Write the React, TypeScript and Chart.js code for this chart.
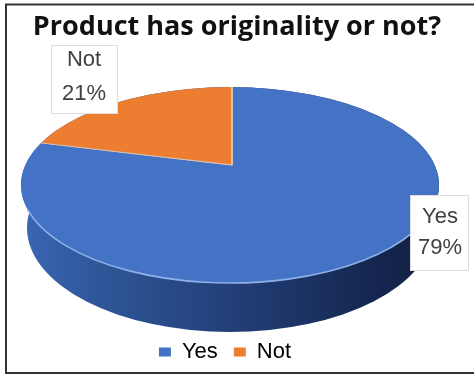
import React, { useEffect, useRef } from "react";
import { Chart, registerables } from "chart.js";

Chart.register(...registerables);

const titleText = "Product has originality or not?";
const categories = ["Yes", "Not"];
const shareValues = [79, 21];
const sliceColors = ["#4472C4", "#ED7D31"];
const labelFont = "22px 'Liberation Sans'";

const pie3d = {
  id: "pie3d",
  afterLayout(chart: any) {
    chart.legend.left -= 12;
    chart.legend.right -= 12;
  },
  beforeDraw(chart: any) {
    const ctx = chart.ctx;
    ctx.save();
    ctx.fillStyle = "#fff";
    ctx.fillRect(0, 0, chart.width, chart.height);
    ctx.restore();
  },
  beforeDatasetsDraw(chart: any) {
    const ctx = chart.ctx;
    // side wall
    ctx.save();
    const g = ctx.createLinearGradient(21, 0, 439, 0);
    g.addColorStop(0, "#3A66B4");
    g.addColorStop(0.2, "#2F5597");
    g.addColorStop(0.5, "#233F78");
    g.addColorStop(0.85, "#14264F");
    g.addColorStop(1, "#10203F");
    ctx.fillStyle = g;
    ctx.beginPath();
    ctx.ellipse(230, 228, 203, 104, 0, 0, Math.PI * 2);
    ctx.fill();
    ctx.beginPath();
    ctx.ellipse(230, 185, 209, 98, 0, 0, Math.PI * 2);
    ctx.fill();
    ctx.restore();
    // top face: pie seen in tilt, apex above the centre of the outline
    const el = chart.getDatasetMeta(0).data[0];
    ctx.save();
    ctx.beginPath();
    ctx.ellipse(230, 185, 209, 98, 0, 0, Math.PI * 2);
    ctx.clip();
    ctx.translate(232, 165);
    ctx.scale(1, 0.45);
    ctx.translate(-el.x, -el.y);
  },
  afterDatasetsDraw(chart: any) {
    const ctx = chart.ctx;
    ctx.restore();
    ctx.save();
    ctx.strokeStyle = "#8FB0E8";
    ctx.lineWidth = 1.6;
    ctx.beginPath();
    ctx.ellipse(230, 185, 209, 98, 0, Math.PI * 0.16, Math.PI * 0.92);
    ctx.stroke();
    ctx.restore();
  },
  afterDraw(chart: any) {
    const ctx = chart.ctx;
    const boxes = [
      { i: 1, x: 51, y: 45, w: 66, h: 68, cx: 84, y1: 60, y2: 94 },
      { i: 0, x: 410, y: 195, w: 58, h: 75, cx: 440, y1: 217, y2: 248 },
    ];
    ctx.save();
    for (const b of boxes) {
      ctx.fillStyle = "#fff";
      ctx.strokeStyle = "#DDDDDD";
      ctx.lineWidth = 1;
      ctx.fillRect(b.x, b.y, b.w, b.h);
      ctx.strokeRect(b.x + 0.5, b.y + 0.5, b.w, b.h);
      ctx.fillStyle = "#404040";
      ctx.font = labelFont;
      ctx.textAlign = "center";
      ctx.textBaseline = "middle";
      ctx.fillText(categories[b.i], b.cx, b.y1);
      ctx.fillText(shareValues[b.i] + "%", b.cx, b.y2);
    }
    ctx.strokeStyle = "#333";
    ctx.lineWidth = 2;
    ctx.beginPath();
    ctx.moveTo(474, 4.5);
    ctx.lineTo(6, 4.5);
    ctx.lineTo(6, 373);
    ctx.lineTo(474, 373);
    ctx.stroke();
    ctx.restore();
  },
};

export default function App() {
  const ref = useRef<HTMLCanvasElement>(null);
  useEffect(() => {
    const chart = new Chart(ref.current as HTMLCanvasElement, {
      type: "pie",
      data: {
        labels: categories,
        datasets: [
          {
            data: shareValues,
            backgroundColor: sliceColors,
            borderColor: "#D9C4B4",
            borderWidth: 2,
            radius: 320,
            clip: false,
          } as any,
        ],
      },
      options: {
        responsive: false,
        animation: false,
        events: [],
        layout: { padding: { top: 0, bottom: 2 } },
        plugins: {
          tooltip: { enabled: false },
          title: {
            display: true,
            text: titleText,
            color: "#111",
            font: { family: "'Open Sans'", size: 27, weight: "bold" },
            padding: { top: 11, bottom: 2 },
          },
          legend: {
            position: "bottom",
            labels: {
              color: "#595959",
              font: { family: "'Liberation Sans'", size: 22 },
              boxWidth: 12,
              boxHeight: 9,
              padding: 16,
              generateLabels(c: any) {
                return categories.map((text, i) => ({
                  text,
                  fillStyle: sliceColors[i],
                  strokeStyle: sliceColors[i],
                  lineWidth: 0,
                  index: i,
                  hidden: false,
                }));
              },
            },
          },
        },
      },
      plugins: [pie3d],
    } as any);
    return () => chart.destroy();
  }, []);
  return (
    <div style={{ position: "fixed", left: 0, top: 0, width: 474, height: 375 }}>
      <canvas ref={ref} width={474} height={375} style={{ display: "block", filter: "blur(0.6px)" }} />
    </div>
  );
}
